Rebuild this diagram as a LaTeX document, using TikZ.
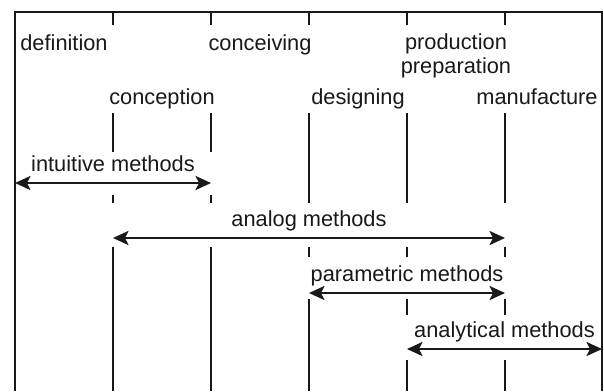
\documentclass[tikz,border=0pt]{standalone}
\usepackage{fontspec}
\setmainfont{Liberation Sans}
\usetikzlibrary{arrows.meta, positioning}

\begin{document}
\begin{tikzpicture}[x=0.025cm, y=-0.025cm,
    rule/.style={line width=1.8pt, black!90},
    blank/.style={fill=white},
    phase/.style={anchor=base, inner sep=0pt, text=black!90, font=\fontsize{15.5}{16.5}\selectfont},
    methodarrow/.style={{Stealth[length=11pt,width=10pt,inset=2.5pt]}-{Stealth[length=11pt,width=10pt,inset=2.5pt]}, line width=1.6pt, black!90},
    methodlabel/.style={phase, yshift=0.28cm}]
  \useasboundingbox (0,0) rectangle (604,391);

  % --- phase boundaries ---
  \foreach \k in {1,...,5}
    \draw[rule] (15+98*\k,12) -- (15+98*\k,391);

  % gaps under the headings and the arrows
  \fill[blank] (17,25) rectangle (600,113);
  \fill[blank] (17,152) rectangle (213,195);
  \fill[blank] (111,203) rectangle (507,247);
  \fill[blank] (307,257) rectangle (507,299);
  \fill[blank] (405,315) rectangle (600,360);

  % --- frame ---
  \draw[rule] (15,391) -- (15,12) -- (602,12) -- (602,391);

  % --- phases ---
  \node[phase] (definition) at (64,50) {definition};
  \node[phase] (conceiving) at (260,50) {conceiving};
  \node[phase, align=center] (preparation) at (456,73) {production\\preparation};
  \node[phase] (conception) at (162,104) {conception};
  \node[phase] (designing) at (358,104) {designing};
  \node[phase] (manufacture) at (537,104) {manufacture};

  % --- methods ---
  \coordinate (intuitive-a) at (15,183);
  \coordinate (intuitive-b) at (211,183);
  \coordinate (analog-a) at (113,238);
  \coordinate (analog-b) at (505,238);
  \coordinate (parametric-a) at (309,293);
  \coordinate (parametric-b) at (505,293);
  \coordinate (analytical-a) at (407,349);
  \coordinate (analytical-b) at (602,349);

  \draw[methodarrow] (intuitive-a) -- node[methodlabel] (intuitive) {intuitive methods} (intuitive-b);
  \draw[methodarrow] (analog-a) -- node[methodlabel] (analog) {analog methods} (analog-b);
  \draw[methodarrow] (parametric-a) -- node[methodlabel] (parametric) {parametric methods} (parametric-b);
  \draw[methodarrow] (analytical-a) -- node[methodlabel] (analytical) {analytical methods} (analytical-b);
\end{tikzpicture}
\end{document}
